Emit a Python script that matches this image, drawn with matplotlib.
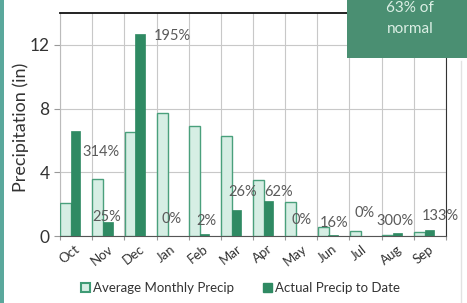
import numpy as np
import matplotlib.pyplot as plt
from matplotlib.patches import Rectangle

months = ["Oct", "Nov", "Dec", "Jan", "Feb", "Mar", "Apr", "May", "Jun", "Jul", "Aug", "Sep"]
avg_precip = [2.1, 3.6, 6.5, 7.7, 6.9, 6.3, 3.5, 2.15, 0.55, 0.3, 0.07, 0.27]
actual_precip = [6.6, 0.9, 12.7, 0.0, 0.14, 1.65, 2.2, 0.0, 0.09, 0.0, 0.2, 0.35]
pct_labels = ["314%", "25%", "195%", "0%", "2%", "26%", "62%", "0%", "16%", "0%", "300%", "133%"]

# where the percent labels sit (data coords), placed by hand like the original
label_x = [1.27, 1.46, 3.48, 3.48, 4.54, 5.69, 6.78, 7.52, 8.52, 9.48, 10.41, 11.81]
label_y = [5.25, 1.2, 12.55, 1.05, 0.95, 2.75, 2.75, 1.0, 0.8, 1.45, 0.95, 1.25]

plt.rcParams['font.family'] = ['Lato', 'DejaVu Sans']

fig = plt.figure(figsize=(4.67, 3.03), dpi=100)
ax = fig.add_axes([0.1285, 0.221, 0.8265, 0.736])

x = np.arange(len(months))
ax.bar(x + 0.18, avg_precip, width=0.34, color='#d6eee4', edgecolor='#4aa07c', linewidth=1.0, zorder=3)
ax.bar(x + 0.49, actual_precip, width=0.29, color='#2f8a63', edgecolor='#2f8a63', linewidth=0.5, zorder=3)

for lx, ly, txt in zip(label_x, label_y, pct_labels):
    ax.text(lx, ly, txt, ha='center', va='center', fontsize=10.5, color='#5a5a5a', zorder=4)

ax.set_xlim(0, 12)
ax.set_ylim(0, 14)
ax.set_yticks([0, 4, 8, 12])
ax.set_xticks(np.arange(0, 13))
ax.set_xticklabels([])
ax.set_xticks(x + 0.3, minor=True)
ax.set_xticklabels(months, minor=True, rotation=38, fontsize=9.5, color='#333333')
ax.tick_params(axis='x', which='minor', length=0, pad=5)
ax.tick_params(axis='x', which='major', length=3, color='#999999')
ax.tick_params(axis='y', length=4, color='#999999', labelsize=12.5, labelcolor='#333333')
ax.grid(True, color='#c8c8c8', linewidth=0.8, zorder=0)
ax.set_axisbelow(True)

ax.spines['top'].set_color('#111111')
ax.spines['top'].set_linewidth(1.3)
ax.spines['right'].set_color('#333333')
ax.spines['bottom'].set_color('#555555')
ax.spines['left'].set_color('#bbbbbb')

fig.text(0.045, 0.578, "Precipitation (in)", rotation=90, ha='center', va='center',
         fontsize=13, color='#333333')

h1 = Rectangle((0, 0), 1, 1, facecolor='#d6eee4', edgecolor='#3f9b75', linewidth=1.5)
h2 = Rectangle((0, 0), 1, 1, facecolor='#2f8a63', edgecolor='#2f8a63')
fig.legend([h1, h2], ["Average Monthly Precip", "Actual Precip to Date"], loc='center',
           bbox_to_anchor=(0.515, 0.05), ncol=2, frameon=False, fontsize=9.5,
           handlelength=0.7, handleheight=0.7, handletextpad=0.2, columnspacing=2.2,
           labelcolor='#333333')

# green callout box in the corner
fig.patches.append(Rectangle((0.743, 0.809), 0.26, 0.2, transform=fig.transFigure,
                             facecolor='#4a8f72', edgecolor='none', zorder=5))
fig.text(0.878, 0.972, "63% of", ha='center', va='center', fontsize=11, color='#dcefe5', zorder=6)
fig.text(0.878, 0.905, "normal", ha='center', va='center', fontsize=11, color='#dcefe5', zorder=6)

# teal frame edge on the left and faint line on the right
fig.patches.append(Rectangle((0, 0), 0.008, 1, transform=fig.transFigure,
                             facecolor='#5aa89c', edgecolor='none'))
fig.lines.append(plt.Line2D([0.988, 0.988], [0, 0.8], transform=fig.transFigure,
                            color='#e2e2e2', linewidth=1))

fig.savefig("out.png", dpi=100)
